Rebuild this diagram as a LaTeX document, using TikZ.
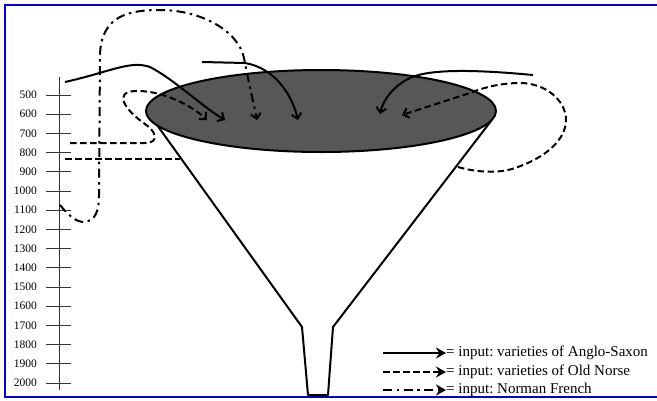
\documentclass[tikz,border=0pt]{standalone}
\usepackage{fontspec}
\setmainfont{Liberation Serif}
\usetikzlibrary{arrows.meta}
\frenchspacing
\newcommand{\funnelcolor}{black!66}
\newcommand{\framecolor}{blue!90!black}
\newcommand{\inkwidth}{2pt}
\newcommand{\keyfont}{\fontsize{15}{17}\selectfont}
\newcommand{\yearfont}{\fontsize{11.5}{13}\selectfont}

\begin{document}
\begin{tikzpicture}[x=1pt,y=-1pt,
  saxon/.style={line width=\inkwidth},
  norse/.style={line width=\inkwidth, dash pattern=on 6.5pt off 3.5pt},
  french/.style={line width=\inkwidth, dash pattern=on 9pt off 4.5pt on 2.5pt off 4.5pt},
  intip/.style={-{Straight Barb[length=5pt,width=10pt]}},
  keytip/.style={-{Stealth[length=10pt,width=11pt]}}]
\useasboundingbox (0,0) rectangle (657,400);
%frame
\draw[\framecolor, line width=2pt] (5,5) rectangle (690,397);
%time line
\draw[line width=1pt, black!80] (59,77) -- (59,390);
\foreach \k in {0,...,15} {
  \pgfmathtruncatemacro{\yr}{500+100*\k}
  \pgfmathsetmacro{\ty}{95+19.2*\k}
  \node[anchor=east, inner sep=0pt, font=\yearfont] (yr\yr) at (37,\ty) {\yr};
  \draw[line width=1pt, black!80] (46,\ty) -- (71,\ty);
}
%funnel
\draw[line width=\inkwidth, line join=round] (152,118) -- (302,327) -- (308,395) -- (328,395) -- (333,327) -- (491,121);
\draw[line width=\inkwidth, fill=\funnelcolor] (321,111) ellipse (175 and 41);
%norse
\draw[norse] (65,159) -- (180,159);
\draw[norse, intip] (70,143) -- (145,143) .. controls (160,143) and (156,131) .. (145,124)
  .. controls (125,110) and (113,92) .. (135,91) .. controls (160,90) and (190,104) .. (207,120);
\draw[norse, intip] (458,167) .. controls (475,172) and (498,174) .. (515,168)
  .. controls (545,158) and (566,140) .. (566,120) .. controls (566,100) and (545,83) .. (520,83)
  .. controls (500,83) and (482,88) .. (470,93) -- (402,115);
%french
\draw[french, intip] (60,205) .. controls (68,215) and (76,222) .. (84,222)
  .. controls (95,221) and (99,212) .. (99,195) -- (100,55)
  .. controls (101,15) and (130,10) .. (160,10) .. controls (200,10) and (238,30) .. (244,58)
  .. controls (248,80) and (253,100) .. (257,120);
%saxon
\draw[saxon, intip] (65,82) .. controls (110,72) and (130,60) .. (150,67)
  .. controls (175,80) and (200,105) .. (225,120);
\draw[saxon, intip] (202,62) -- (245,63) .. controls (275,68) and (292,95) .. (298,120);
\draw[saxon, intip] (533,75) .. controls (490,71) and (440,68) .. (415,76)
  .. controls (395,83) and (383,100) .. (380,114);
%key
\coordinate (keyA) at (383,353);
\coordinate (keyB) at (383,372);
\coordinate (keyC) at (383,390);
\node[anchor=west, inner sep=0pt, font=\keyfont] (txtA) at (446,353) {= input: varieties of Anglo-Saxon};
\node[anchor=west, inner sep=0pt, font=\keyfont] (txtB) at (446,372) {= input: varieties of Old Norse};
\node[anchor=west, inner sep=0pt, font=\keyfont] (txtC) at (446,390) {= input: Norman French};
\draw[saxon, keytip] (keyA) -- (txtA.west);
\draw[norse, keytip] (keyB) -- (txtB.west);
\draw[french, keytip] (keyC) -- (txtC.west);
\end{tikzpicture}
\end{document}
